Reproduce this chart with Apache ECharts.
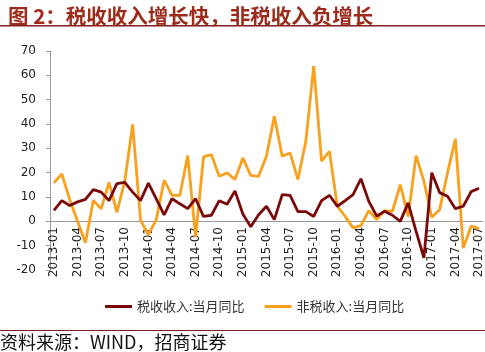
<!DOCTYPE html>
<html>
<head>
<meta charset="utf-8">
<script src="https://cdn.jsdelivr.net/npm/echarts@6/dist/echarts.min.js"></script>
<style>
  html, body { margin: 0; padding: 0; background: #fff; }
  #main { width: 485px; height: 352px; }
</style>
</head>
<body>
<div id="main"></div>
<script>
// 月份 2013-01 ~ 2017-07
const months = [];
for (let y = 2013; y <= 2017; y++) {
    for (let m = 1; m <= 12; m++) {
        if (y === 2017 && m > 7) break;
        months.push(y + '-' + (m < 10 ? '0' + m : m));
    }
}
// 税收收入:当月同比
const taxYoY = [
    4.5, 8.5, 6.5, 8, 9, 13, 12, 8.5, 15.5, 16, 12, 8.5,
    15.7, 9.2, 2.7, 9.3, 7.2, 5.2, 9.3, 2, 2.5, 8.5, 7, 12.5,
    3, -2.2, 2.7, 6.2, 0.7, 11, 10.7, 4, 4, 2, 8.5, 10.7,
    6.2, 8.5, 11, 17.5, 8.2, 2.2, 4.1, 2.5, 0, 7.6, -4, -15,
    20, 11.8, 10.3, 5.2, 6.2, 12.2, 13.6
];
// 非税收入:当月同比
const nonTaxYoY = [
    15.8, 19.5, 9, 0, -8.8, 8.6, 5.1, 16, 3.7, 16.5, 39.8, 0.5,
    -5.5, 0.7, 16.9, 10.7, 10.7, 27, -6.5, 26.5, 27.4, 18.5, 19.9, 17.2,
    26, 18.9, 18.5, 26.8, 43.2, 26.8, 28.1, 17.2, 32.9, 63.8, 24.7, 28.8,
    6.2, 2, -2.7, -1.8, 4.4, 0.7, 4.4, 4.1, 15.1, 2, 27, 16.5,
    1.7, 4.8, 20, 33.9, -11, -2, -3
];

window.addEventListener('load', function () {
    let chart = echarts.init(document.getElementById('main'));
    let option = {
        animation: false,
        title: {
            text: '图 2：税收收入增长快，非税收入负增长',
            left: 3,
            top: 1,
            textStyle: {
                color: '#9C2B1B',
                fontSize: 20.5,
                fontWeight: 'bold',
                fontFamily: 'Noto Sans CJK SC'
            }
        },
        graphic: [
            { type: 'rect', shape: { x: 0, y: 25, width: 485, height: 1.5 }, style: { fill: '#7F1F1F' } },
            { type: 'rect', shape: { x: 0, y: 330, width: 485, height: 1 }, style: { fill: '#7F1F1F' } },
            {
                type: 'text', left: 0, top: 333,
                style: { text: '资料来源：WIND，招商证券', fill: '#111', font: '18px "Noto Sans CJK SC"' }
            }
        ],
        legend: {
            left: 100,
            top: 295,
            itemWidth: 27,
            itemHeight: 3,
            itemGap: 20,
            icon: 'rect',
            textStyle: { fontSize: 13, color: '#333', fontFamily: 'Noto Sans CJK SC' },
            data: ['税收收入:当月同比', '非税收入:当月同比']
        },
        grid: { left: 50, right: 1, top: 51, bottom: 82 },
        xAxis: [
            {
                // 零轴：轴线 + 刻度
                type: 'category',
                data: months,
                boundaryGap: true,
                axisLine: { onZero: true, lineStyle: { color: '#999' } },
                axisTick: { interval: 2, length: 4, lineStyle: { color: '#999' } },
                axisLabel: { show: false }
            },
            {
                // 标签，贴在零轴下方
                type: 'category',
                data: months,
                position: 'bottom',
                offset: -49,
                boundaryGap: true,
                axisLine: { show: false },
                axisTick: { show: false },
                axisLabel: {
                    interval: 2,
                    rotate: 90,
                    margin: 6,
                    color: '#222',
                    fontSize: 12,
                    fontFamily: 'DejaVu Sans'
                }
            }
        ],
        yAxis: {
            type: 'value',
            min: -20,
            max: 70,
            interval: 10,
            axisLine: { show: true, lineStyle: { color: '#999' } },
            axisTick: { show: true, length: 4, lineStyle: { color: '#999' } },
            splitLine: { show: false },
            axisLabel: { color: '#222', fontSize: 12, margin: 14, fontFamily: 'DejaVu Sans' }
        },
        series: [
            {
                name: '税收收入:当月同比',
                type: 'line',
                data: taxYoY,
                symbol: 'none',
                z: 3,
                itemStyle: { color: '#7A0A0A' },
                lineStyle: { color: '#7A0A0A', width: 2.8 }
            },
            {
                name: '非税收入:当月同比',
                type: 'line',
                data: nonTaxYoY,
                symbol: 'none',
                z: 2,
                itemStyle: { color: '#F7A11E' },
                lineStyle: { color: '#F7A11E', width: 2.8 }
            }
        ]
    };
    chart.setOption(option);
}, false);
</script>
</body>
</html>
